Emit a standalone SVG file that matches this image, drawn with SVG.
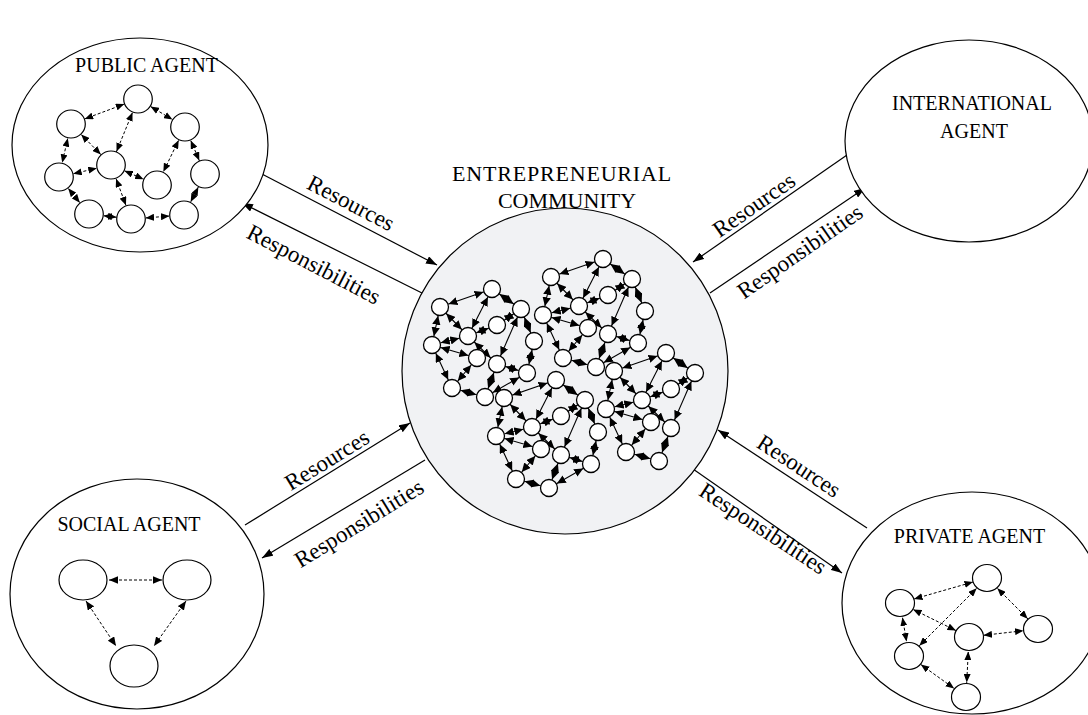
<svg xmlns="http://www.w3.org/2000/svg" xmlns:xlink="http://www.w3.org/1999/xlink" width="1088" height="715" viewBox="0 0 1088 715">
<style>
.outer{fill:#fff;stroke:#000;stroke-width:1.2}
.hub{fill:#f1f2f4;stroke:#000;stroke-width:1.2}
.lbl{font-family:"Liberation Serif","Times New Roman",serif;font-size:20px;fill:#000;text-anchor:middle}
.ttl{font-family:"Liberation Serif","Times New Roman",serif;font-size:22px;fill:#000;text-anchor:middle}
.flow{font-family:"Liberation Serif","Times New Roman",serif;font-size:23px;fill:#000;text-anchor:middle}
.conn{stroke:#000;stroke-width:1.2;fill:none;marker-end:url(#mh)}
.dl{stroke:#000;stroke-width:1;stroke-dasharray:3 2;fill:none;marker-start:url(#mp);marker-end:url(#mp)}
.sl{stroke:#000;stroke-width:1;stroke-dasharray:3 2;fill:none;marker-start:url(#ms);marker-end:url(#ms)}
.cl{stroke:#000;stroke-width:1.1;fill:none;marker-start:url(#mc);marker-end:url(#mc)}
.nd{fill:#fff;stroke:#000;stroke-width:1.2}
.cn{fill:#fff;stroke:#000;stroke-width:1.3}
</style>
<defs>
<marker id="mh" markerUnits="userSpaceOnUse" orient="auto" viewBox="-11 -4 11 8" markerWidth="11" markerHeight="8" refX="0" refY="0"><path d="M0,0 L-11,-4 L-11,4 z" fill="#000"/></marker>
<marker id="mp" markerUnits="userSpaceOnUse" orient="auto-start-reverse" viewBox="-8.5 -3.5 8.5 7" markerWidth="8.5" markerHeight="7" refX="14.6" refY="0"><path d="M0,0 L-8.5,-3.5 L-8.5,3.5 z" fill="#000"/></marker>
<marker id="ms" markerUnits="userSpaceOnUse" orient="auto-start-reverse" viewBox="-9 -3.8 9 7.6" markerWidth="9" markerHeight="7.6" refX="0" refY="0"><path d="M0,0 L-9,-3.8 L-9,3.8 z" fill="#000"/></marker>
<marker id="mc" markerUnits="userSpaceOnUse" orient="auto-start-reverse" viewBox="-9 -4.2 9 8.4" markerWidth="9" markerHeight="8.4" refX="9" refY="0"><path d="M0,0 L-9,-4.2 L-9,4.2 z" fill="#000"/></marker>
<g id="ce">
<line class="cl" x1="440" y1="307" x2="492" y2="289"/>
<line class="cl" x1="492" y1="289" x2="468" y2="336"/>
<line class="cl" x1="492" y1="289" x2="521" y2="309"/>
<line class="cl" x1="440" y1="307" x2="468" y2="336"/>
<line class="cl" x1="440" y1="307" x2="432" y2="345"/>
<line class="cl" x1="521" y1="309" x2="497" y2="325"/>
<line class="cl" x1="521" y1="309" x2="497" y2="364"/>
<line class="cl" x1="468" y1="336" x2="432" y2="345"/>
<line class="cl" x1="468" y1="336" x2="497" y2="325"/>
<line class="cl" x1="468" y1="336" x2="497" y2="364"/>
<line class="cl" x1="432" y1="345" x2="477" y2="358"/>
<line class="cl" x1="432" y1="345" x2="452" y2="388"/>
<line class="cl" x1="477" y1="358" x2="452" y2="388"/>
<line class="cl" x1="452" y1="388" x2="485" y2="397"/>
<line class="cl" x1="485" y1="397" x2="497" y2="364"/>
</g>
<g id="ceX">
<line class="cl" x1="521" y1="309" x2="534" y2="341"/>
<line class="cl" x1="534" y1="341" x2="527" y2="373"/>
<line class="cl" x1="497" y1="364" x2="527" y2="373"/>
<line class="cl" x1="485" y1="397" x2="527" y2="373"/>
</g>
<g id="cn">
<circle class="cn" cx="440" cy="307" r="8.5"/>
<circle class="cn" cx="492" cy="289" r="8.5"/>
<circle class="cn" cx="521" cy="309" r="8.5"/>
<circle class="cn" cx="497" cy="325" r="8.5"/>
<circle class="cn" cx="468" cy="336" r="8.5"/>
<circle class="cn" cx="432" cy="345" r="8.5"/>
<circle class="cn" cx="477" cy="358" r="8.5"/>
<circle class="cn" cx="497" cy="364" r="8.5"/>
<circle class="cn" cx="452" cy="388" r="8.5"/>
<circle class="cn" cx="485" cy="397" r="8.5"/>
</g>
<g id="cnX">
<circle class="cn" cx="534" cy="341" r="8.5"/>
<circle class="cn" cx="527" cy="373" r="8.5"/>
</g>
</defs>

<g id="connectors">
<line class="conn" x1="260" y1="173" x2="437" y2="265"/>
<line class="conn" x1="422" y1="293" x2="242" y2="203"/>
<line class="conn" x1="847" y1="155" x2="693" y2="262"/>
<line class="conn" x1="710" y1="293" x2="865" y2="188"/>
<line class="conn" x1="245" y1="525" x2="410" y2="423"/>
<line class="conn" x1="425" y1="460" x2="262" y2="558"/>
<line class="conn" x1="867" y1="528" x2="718" y2="430"/>
<line class="conn" x1="693" y1="469" x2="842" y2="573"/>
<text class="flow" transform="translate(351,203) rotate(27.5)" dy="0.33em">Resources</text>
<text class="flow" transform="translate(313,266) rotate(27.5)" dy="0.25em">Responsibilities</text>
<text class="flow" transform="translate(754,205) rotate(-34.8)" dy="0.33em">Resources</text>
<text class="flow" transform="translate(801,253) rotate(-34.8)" dy="0.25em">Responsibilities</text>
<text class="flow" transform="translate(327,460) rotate(-31.7)" dy="0.33em">Resources</text>
<text class="flow" transform="translate(360,525) rotate(-31.7)" dy="0.25em">Responsibilities</text>
<text class="flow" transform="translate(799,466) rotate(33.3)" dy="0.33em">Resources</text>
<text class="flow" transform="translate(762,530) rotate(33.3)" dy="0.25em">Responsibilities</text>
</g>

<g id="public-agent">
<ellipse class="outer" cx="140" cy="145" rx="128" ry="107"/>
<text class="lbl" x="146.5" y="72">PUBLIC AGENT</text>
<line class="dl" x1="138" y1="99" x2="71" y2="124"/>
<line class="dl" x1="138" y1="99" x2="185" y2="127"/>
<line class="dl" x1="138" y1="99" x2="111" y2="165"/>
<line class="dl" x1="71" y1="124" x2="59" y2="177"/>
<line class="dl" x1="71" y1="124" x2="111" y2="165"/>
<line class="dl" x1="59" y1="177" x2="111" y2="165"/>
<line class="dl" x1="111" y1="165" x2="157" y2="185"/>
<line class="dl" x1="185" y1="127" x2="157" y2="185"/>
<line class="dl" x1="185" y1="127" x2="205" y2="174"/>
<line class="dl" x1="59" y1="177" x2="89" y2="214"/>
<line class="dl" x1="89" y1="214" x2="131" y2="219"/>
<line class="dl" x1="111" y1="165" x2="131" y2="219"/>
<line class="dl" x1="131" y1="219" x2="184" y2="215"/>
<line class="dl" x1="184" y1="215" x2="205" y2="174"/>
<ellipse class="nd" cx="138" cy="99" rx="14.3" ry="14"/>
<ellipse class="nd" cx="71" cy="124" rx="14.3" ry="14"/>
<ellipse class="nd" cx="185" cy="127" rx="14.3" ry="14"/>
<ellipse class="nd" cx="111" cy="165" rx="14.3" ry="14"/>
<ellipse class="nd" cx="59" cy="177" rx="14.3" ry="14"/>
<ellipse class="nd" cx="157" cy="185" rx="14.3" ry="14"/>
<ellipse class="nd" cx="205" cy="174" rx="14.3" ry="14"/>
<ellipse class="nd" cx="89" cy="214" rx="14.3" ry="14"/>
<ellipse class="nd" cx="131" cy="219" rx="14.3" ry="14"/>
<ellipse class="nd" cx="184" cy="215" rx="14.3" ry="14"/>
</g>

<g id="international-agent">
<ellipse class="outer" cx="969" cy="141" rx="124" ry="101"/>
<text class="lbl" x="972" y="110">INTERNATIONAL</text>
<text class="lbl" x="974" y="138">AGENT</text>
</g>

<g id="social-agent">
<ellipse class="outer" cx="137" cy="594" rx="127" ry="115"/>
<text class="lbl" x="129" y="531">SOCIAL AGENT</text>
<line class="sl" x1="109" y1="580" x2="162" y2="580"/>
<line class="sl" x1="86" y1="601" x2="116" y2="646"/>
<line class="sl" x1="186" y1="601" x2="154" y2="646"/>
<ellipse class="nd" cx="83" cy="580" rx="24" ry="20"/>
<ellipse class="nd" cx="187" cy="580" rx="24" ry="20"/>
<ellipse class="nd" cx="134" cy="666" rx="24" ry="21"/>
</g>

<g id="private-agent">
<ellipse class="outer" cx="972" cy="603" rx="130" ry="111"/>
<text class="lbl" x="969.5" y="543">PRIVATE AGENT</text>
<line class="dl" x1="900" y1="603" x2="987" y2="578"/>
<line class="dl" x1="987" y1="578" x2="1038" y2="629"/>
<line class="dl" x1="987" y1="578" x2="909" y2="656"/>
<line class="dl" x1="900" y1="603" x2="969" y2="637"/>
<line class="dl" x1="900" y1="603" x2="909" y2="656"/>
<line class="dl" x1="969" y1="637" x2="1038" y2="629"/>
<line class="dl" x1="909" y1="656" x2="966" y2="697"/>
<line class="dl" x1="969" y1="637" x2="966" y2="697"/>
<ellipse class="nd" cx="987" cy="578" rx="14.5" ry="13.5"/>
<ellipse class="nd" cx="900" cy="603" rx="14.5" ry="13.5"/>
<ellipse class="nd" cx="1038" cy="629" rx="14.5" ry="13.5"/>
<ellipse class="nd" cx="969" cy="637" rx="14.5" ry="13.5"/>
<ellipse class="nd" cx="909" cy="656" rx="14.5" ry="13.5"/>
<ellipse class="nd" cx="966" cy="697" rx="14.5" ry="13.5"/>
</g>

<g id="entrepreneurial-community">
<circle class="hub" cx="565" cy="371" r="163"/>
<text class="ttl" x="562" y="181" letter-spacing="0.8">ENTREPRENEURIAL</text>
<text class="ttl" x="567" y="208">COMMUNITY</text>
<use xlink:href="#ce"/>
<use xlink:href="#ceX"/>
<use xlink:href="#ce" transform="translate(111,-30)"/>
<use xlink:href="#ceX" transform="translate(111,-30)"/>
<use xlink:href="#ce" transform="translate(64,91)"/>
<use xlink:href="#ceX" transform="translate(64,91)"/>
<use xlink:href="#ce" transform="translate(174,64)"/>
<use xlink:href="#cn"/>
<use xlink:href="#cnX"/>
<use xlink:href="#cn" transform="translate(111,-30)"/>
<use xlink:href="#cnX" transform="translate(111,-30)"/>
<use xlink:href="#cn" transform="translate(64,91)"/>
<use xlink:href="#cnX" transform="translate(64,91)"/>
<use xlink:href="#cn" transform="translate(174,64)"/>
</g>
</svg>
